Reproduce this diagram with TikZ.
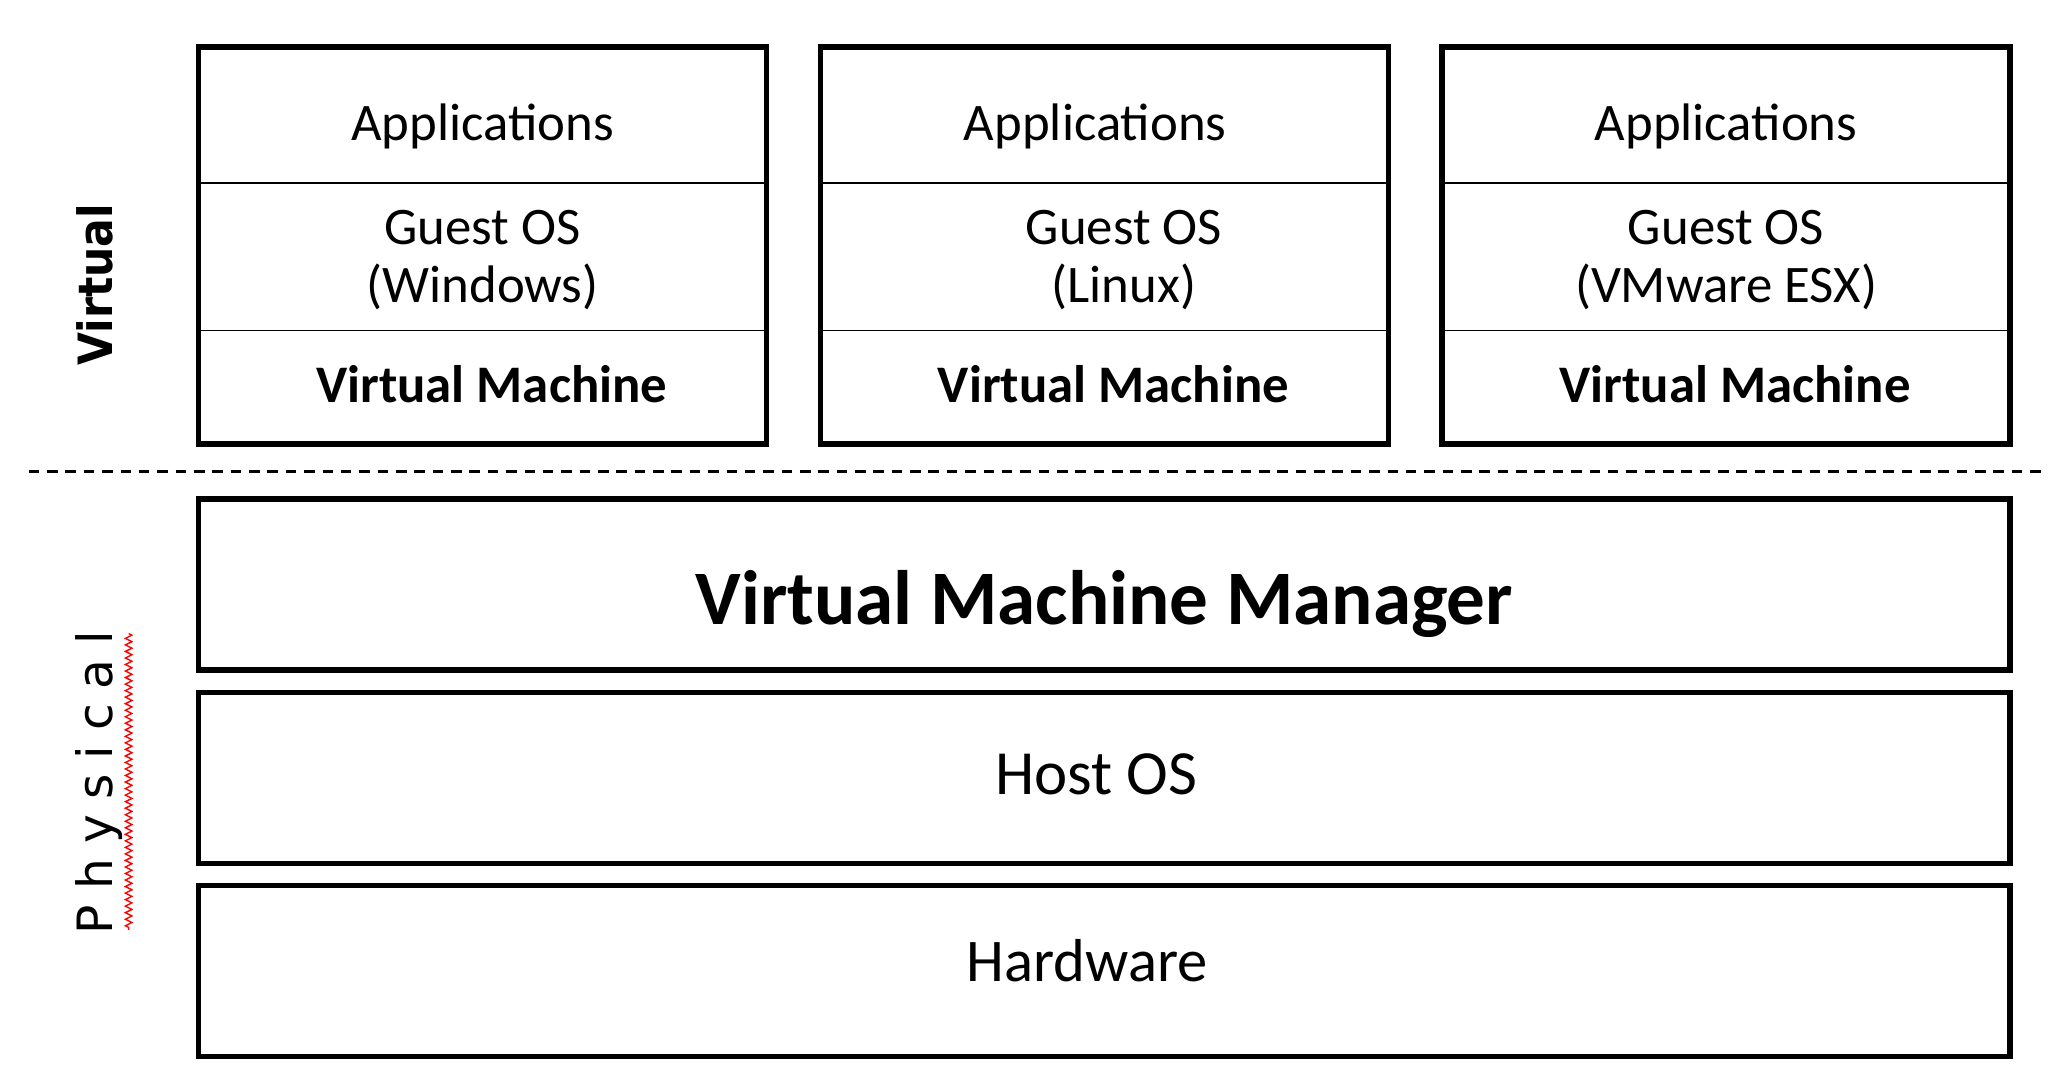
\documentclass[tikz,border=0pt]{standalone}
\usepackage{fontspec}
\setmainfont{Carlito}
\newfontfamily\sidefont{DejaVu Sans Condensed}
\newfontfamily\spacedfont[LetterSpace=31]{DejaVu Sans}
\usetikzlibrary{positioning,decorations.pathmorphing}
\tikzset{
    layer/.style={draw, line width=0.4pt, minimum width=4.35cm,
        inner sep=0pt, outer sep=0pt},
    txt/.style={align=center, inner sep=0pt, font=\fontsize{11.5}{12.8}\selectfont},
    frame/.style={draw, line width=1.2pt},
    band/.style={frame, minimum width=13.87cm, minimum height=1.31cm,
        inner sep=0pt, outer sep=0pt},
}
\begin{document}
\begin{tikzpicture}
    \useasboundingbox (0,0) rectangle (15.68,8.30);
    % virtual machines
    \foreach \i/\x/\os/\ax/\gx in {1/3.695/Windows/0/0, 2/8.455/Linux/-0.07/0.15, 3/13.215/VMware ESX/0/0} {
        \node[layer, minimum height=1.04cm] (app\i) at (\x,7.42) {};
        \node[layer, minimum height=1.13cm, below=0pt of app\i] (guest\i) {};
        \node[layer, minimum height=0.87cm, below=0pt of guest\i] (vm\i) {};
        \draw[frame] (app\i.north west) rectangle (vm\i.south east);
        \node[txt] (apptxt\i) at ([xshift=\ax cm, yshift=-0.09cm]app\i) {Applications};
        \node[txt] (guesttxt\i) at ([xshift=\gx cm, yshift=-0.025cm]guest\i) {Guest OS\\(\os)};
        \node[txt, font=\fontsize{11.5}{12.8}\selectfont\bfseries] (vmtxt\i) at ([xshift=0.07cm, yshift=0.02cm]vm\i) {Virtual Machine};
    }
    % physical layers
    \node[band] (vmm) at (8.455,3.825) {};
    \node[band, below=0.17cm of vmm] (host) {};
    \node[band, below=0.17cm of host] (hw) {};
    \node[txt, font=\fontsize{16.8}{18}\selectfont\bfseries] (vmmtxt) at ([yshift=-0.15cm]vmm) {Virtual Machine Manager};
    \node[txt, font=\fontsize{13.7}{15}\selectfont] (hosttxt) at ([xshift=-0.06cm, yshift=0.03cm]host) {Host OS};
    \node[txt, font=\fontsize{13.2}{15}\selectfont] (hwtxt) at ([xshift=-0.13cm, yshift=0.08cm]hw) {Hardware};
    % separator and side labels
    \coordinate (sepL) at (0.22,4.69);
    \coordinate (sepR) at (15.68,4.69);
    \draw[line width=0.45pt, dash pattern=on 2.3pt off 1.7pt] (sepL) -- (sepR);
    \node[rotate=90, font=\sidefont\bfseries\fontsize{10.3}{12}\selectfont] (virt) at (0.73,6.12) {Virtual};
    \node[rotate=90, font=\spacedfont\fontsize{10.6}{12}\selectfont] (phys) at (0.755,2.31) {Physical};
    \coordinate (wavetop) at (0.985,3.45);
    \coordinate (wavebot) at (0.985,1.18);
    \draw[red, line width=0.3pt, decorate, decoration={zigzag, amplitude=0.025cm, segment length=0.05cm}]
        (wavetop) -- (wavebot);
\end{tikzpicture}
\end{document}
